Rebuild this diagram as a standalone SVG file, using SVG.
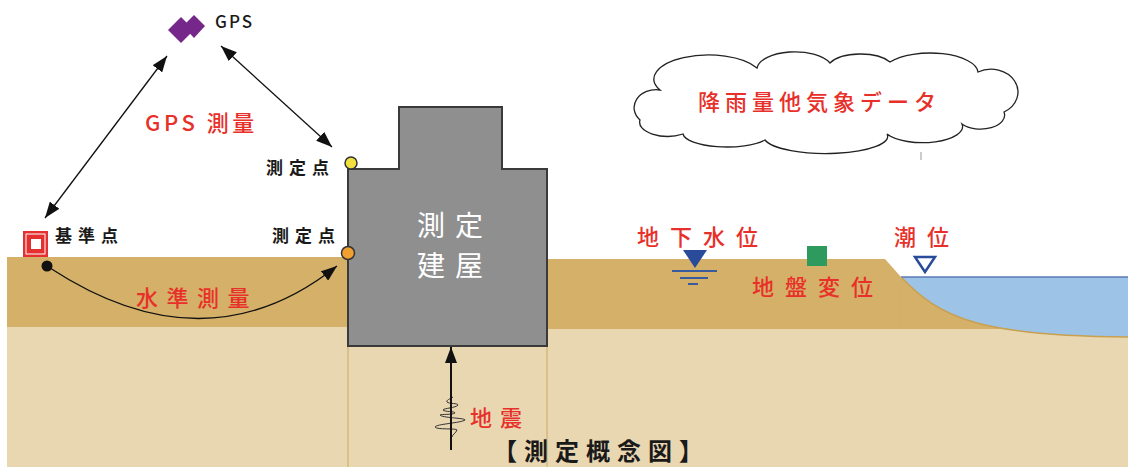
<svg xmlns="http://www.w3.org/2000/svg" width="1128" height="467" viewBox="0 0 1128 467">
  <style>
    text { font-family: "Noto Sans CJK JP", "Noto Sans", sans-serif; }
    .red { fill: #e8302a; font-size: 22px; font-weight: 500; }
    .lbl { fill: #1a1a1a; font-size: 17px; font-weight: bold; letter-spacing: 6px; }
    .soil { fill: #d5b068; }
    .sand { fill: #e9d7b2; }
    .edge { stroke: #d0b070; stroke-width: 1.2; fill: none; }
    .conn { stroke: #111; stroke-width: 1.3; fill: none; }
  </style>
  <defs>
    <marker id="ah" viewBox="0 0 16 12" refX="16" refY="6" markerWidth="16" markerHeight="12" markerUnits="userSpaceOnUse" orient="auto-start-reverse">
      <path d="M0,0 L16,6 L0,12 Z" fill="#111"/>
    </marker>
  </defs>

  <!-- ground section -->
  <g id="ground">
    <rect class="sand" x="7" y="326" width="1121" height="141"/>
    <rect class="soil" x="7" y="257" width="341" height="70"/>
    <path class="soil" d="M547,259 L885,259 L901,277 L901,329 L547,329 Z"/>
    <rect class="soil" x="901" y="277" width="227" height="52"/>
    <path d="M901,277 L1128,277 L1128,337 C980,336 940,318 901,277 Z" fill="#9dc3e6"/>
    <path d="M901,277 C940,318 980,336 1128,337" stroke="#c8a050" stroke-width="1.5" fill="none"/>
    <line x1="901" y1="277" x2="1128" y2="277" stroke="#5b78b5" stroke-width="1.5"/>
    <line class="edge" x1="901" y1="277" x2="901" y2="329"/>
    <line class="edge" x1="348" y1="347" x2="348" y2="467"/>
    <line class="edge" x1="547" y1="347" x2="547" y2="467"/>
  </g>

  <!-- measured building -->
  <g id="building">
    <path d="M348,169 L399,169 L399,107 L502,107 L502,169 L547,169 L547,346 L348,346 Z" fill="#8f8f8f" stroke="#3a3a3a" stroke-width="2"/>
    <text x="417" y="236" fill="#ffffff" font-size="28" letter-spacing="10">測定</text>
    <text x="417" y="276" fill="#ffffff" font-size="28" letter-spacing="10">建屋</text>
  </g>

  <!-- GPS satellite -->
  <g id="gps">
    <path d="M181,17 L194,30 L181,43 L168,30 Z" fill="#76288a"/>
    <path d="M194,15 L205,26 L194,38 L183,26 Z" fill="#76288a"/>
    <text x="215" y="28" fill="#1a1a1a" font-size="17" font-weight="500" letter-spacing="2">GPS</text>
  </g>

  <!-- benchmark -->
  <g id="benchmark">
    <rect x="23" y="231" width="25" height="26" fill="#e53030"/>
    <rect x="26" y="234" width="19" height="20" fill="none" stroke="#ffffff" stroke-width="1"/>
    <rect x="31" y="239" width="10" height="10" fill="#ffffff"/>
    <circle cx="47" cy="266" r="5.5" fill="#111"/>
    <text class="lbl" x="55" y="242">基準点</text>
  </g>

  <!-- measuring points on the building -->
  <g id="point-roof">
    <circle cx="351" cy="163" r="6" fill="#f2e040" stroke="#333" stroke-width="1.5"/>
    <text class="lbl" x="266" y="174">測定点</text>
  </g>
  <g id="point-wall">
    <circle cx="348" cy="253" r="6.5" fill="#f0a030" stroke="#333" stroke-width="1.5"/>
    <text class="lbl" x="272" y="242">測定点</text>
  </g>

  <!-- weather data cloud -->
  <g id="weather">
    <path d="M640,120 A22 18 0 0 1 660,90 A50 22 0 0 1 757,68 A38 18 0 0 1 830,63 A34 16 0 0 1 890,62 A48 20 0 0 1 978,72 A26 22 0 0 1 1004,112 A24 14 0 0 1 962,124 A40 16 0 0 1 887,134 A62 17 0 0 1 765,140 A44 14 0 0 1 683,134 A28 14 0 0 1 640,120 Z" fill="#ffffff" stroke="#222" stroke-width="1.3"/>
    <text class="red" x="698" y="110" font-size="25" letter-spacing="5">降雨量他気象データ</text>
    <line x1="921" y1="152" x2="921" y2="160" stroke="#999" stroke-width="1"/>
  </g>

  <!-- groundwater level -->
  <g id="groundwater">
    <path d="M683,250 L707,250 L695,268 Z" fill="#2a4a9a"/>
    <g stroke="#3a5aa0" stroke-width="2">
      <line x1="672" y1="271" x2="717" y2="271"/>
      <line x1="680" y1="278" x2="708" y2="278"/>
      <line x1="688" y1="284" x2="698" y2="284"/>
    </g>
    <text class="red" x="637" y="245" letter-spacing="11">地下水位</text>
  </g>

  <!-- ground displacement -->
  <g id="displacement">
    <rect x="807" y="246" width="20" height="20" fill="#2e9a5e"/>
    <text class="red" x="752" y="295" letter-spacing="11">地盤変位</text>
  </g>

  <!-- tide level -->
  <g id="tide">
    <path d="M915,257 L935,257 L925,272 Z" fill="#ffffff" stroke="#2a4a9a" stroke-width="2.5" stroke-linejoin="miter"/>
    <text class="red" x="894" y="245" letter-spacing="11">潮位</text>
  </g>

  <!-- earthquake -->
  <g id="earthquake">
    <path d="M453,397 C450,399 446,400 447,402 C449,404 458,403 458,405 C456,408 444,408 443,410 C444,412 455,411 455,413 C452,415 441,414 440,415 C442,418 466,418 465,420 C461,423 436,424 435,427 C437,430 456,428 457,430 C456,433 452,435 452,437" stroke="#333" stroke-width="1" fill="none"/>
    <text class="red" x="470" y="426" font-size="24" letter-spacing="8">地震</text>
  </g>

  <!-- figure title -->
  <text x="493" y="460" fill="#1a1a1a" font-size="24" font-weight="bold" letter-spacing="7">【測定概念図】</text>

  <!-- survey labels -->
  <text class="red" x="145" y="131" font-size="23" letter-spacing="3.5">GPS 測量</text>
  <text class="red" x="136" y="306" font-size="23" letter-spacing="8.5">水準測量</text>

  <!-- connectors -->
  <g id="connectors">
    <path class="conn" d="M45,218 L167,56" marker-start="url(#ah)" marker-end="url(#ah)"/>
    <path class="conn" d="M221,46 L332,147" marker-start="url(#ah)" marker-end="url(#ah)"/>
    <path class="conn" d="M50,268 Q206,370 337,266" marker-end="url(#ah)"/>
    <path d="M451,450 L451,347" stroke="#111" stroke-width="2" fill="none" marker-end="url(#ah)"/>
  </g>
</svg>
